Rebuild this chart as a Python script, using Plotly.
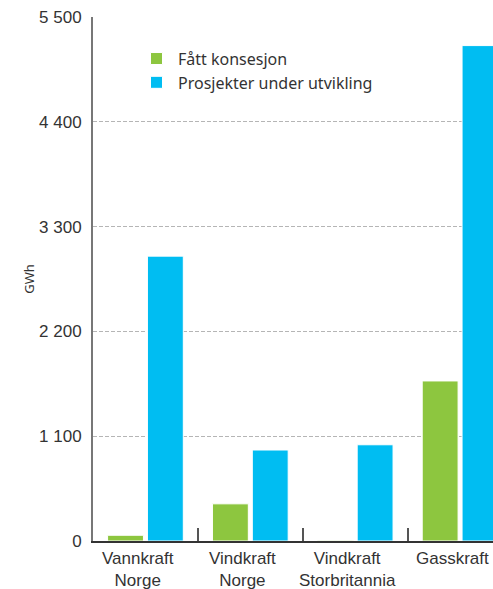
import plotly.graph_objects as go

categories = ["Vannkraft<br>Norge", "Vindkraft<br>Norge", "Vindkraft<br>Storbritannia", "Gasskraft"]
fatt_konsesjon = [60, 390, 8, 1680]
prosjekter = [2990, 955, 1010, 5200]
y_ticks = [0, 1100, 2200, 3300, 4400, 5500]
y_ticktext = ["0", "1 100", "2 200", "3 300", "4 400", "5 500"]

fig = go.Figure()
fig.add_trace(go.Bar(x=categories, y=fatt_konsesjon, name="Fått konsesjon",
                     marker=dict(color="#8dc63f", line=dict(color="white", width=1))))
fig.add_trace(go.Bar(x=categories, y=prosjekter, name="Prosjekter under utvikling",
                     marker=dict(color="#00bdf2", line=dict(color="white", width=1))))

# category labels placed slightly left of center, as in the reference
for i, c in enumerate(categories):
    fig.add_annotation(x=i - 0.075, y=0, xref="x", yref="paper", yanchor="top",
                       yshift=-6, text=c, showarrow=False,
                       font=dict(family="Liberation Sans", size=17, color="#333"))

fig.update_layout(
    width=493, height=589,
    margin=dict(l=93, r=0, t=17, b=48),
    paper_bgcolor="white", plot_bgcolor="white",
    barmode="group", bargap=0.24, bargroupgap=0.1,
    showlegend=True,
    legend=dict(x=0.105, y=0.953, xanchor="left", yanchor="top",
                font=dict(family="Noto Sans", size=16, color="#333"),
                bgcolor="rgba(0,0,0,0)", tracegroupgap=7, itemwidth=33),
    font=dict(family="Liberation Sans", color="#333"),
)
fig.update_xaxes(
    type="category",
    range=[-0.5, 3.314],
    showticklabels=False,
    tickson="boundaries", ticks="inside", ticklen=13, tickwidth=1.5, tickcolor="#555",
    showline=True, linecolor="#333", linewidth=2,
    showgrid=False, zeroline=False,
)
fig.update_yaxes(
    range=[0, 5500],
    tickmode="array", tickvals=y_ticks, ticktext=y_ticktext,
    tickfont=dict(family="Liberation Sans", size=17, color="#333"),
    showline=True, linecolor="#777", linewidth=2,
    showgrid=True, gridcolor="#b5b5b5", griddash="4px,2px", gridwidth=1,
    zeroline=False, ticks="", ticklabelstandoff=6,
    title=dict(text="GWh", font=dict(family="Noto Sans", size=13, color="#333"), standoff=2),
)
fig.write_html("out.html")
